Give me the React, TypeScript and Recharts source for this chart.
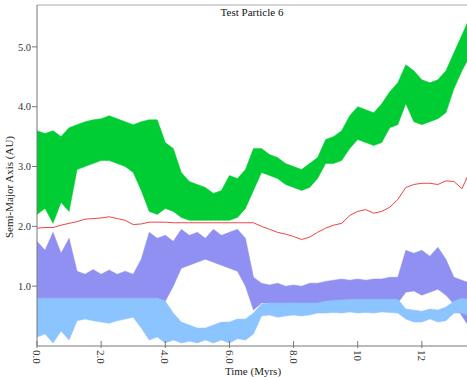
import { ComposedChart, Area, Line, XAxis, YAxis, ReferenceLine } from 'recharts'

// time samples (Myrs)
const times = [
  0, 0.25, 0.5, 0.75, 1, 1.25, 1.5, 1.75, 2, 2.25, 2.5, 2.75, 3, 3.25, 3.5, 3.75,
  4, 4.25, 4.5, 4.75, 5, 5.25, 5.5, 5.75, 6, 6.25, 6.5, 6.75, 7, 7.25, 7.5, 7.75,
  8, 8.25, 8.5, 8.75, 9, 9.25, 9.5, 9.75, 10, 10.25, 10.5, 10.75, 11, 11.25, 11.5, 11.75,
  12, 12.25, 12.5, 12.75, 13, 13.25, 13.5,
]

// green band: upper / lower envelope (AU)
const greenHi = [
  3.6, 3.55, 3.6, 3.5, 3.65, 3.7, 3.75, 3.78, 3.8, 3.85, 3.8, 3.75, 3.7, 3.75, 3.78, 3.78,
  3.4, 3.3, 2.9, 2.75, 2.7, 2.65, 2.55, 2.6, 2.85, 2.8, 2.95, 3.3, 3.3, 3.2, 3.15, 3.05,
  3.0, 2.95, 3.05, 3.15, 3.45, 3.5, 3.6, 3.85, 4.0, 3.95, 3.9, 4.05, 4.25, 4.4, 4.7, 4.6,
  4.45, 4.4, 4.45, 4.6, 4.9, 5.2, 5.5,
]
const greenLo = [
  2.2, 2.3, 2.05, 2.4, 2.25, 2.95, 3.0, 3.05, 3.1, 3.1, 3.05, 3.0, 2.9, 2.6, 2.25, 2.2,
  2.3, 2.25, 2.15, 2.1, 2.1, 2.1, 2.1, 2.1, 2.1, 2.15, 2.3, 2.6, 2.9, 2.85, 2.8, 2.7,
  2.65, 2.6, 2.65, 2.8, 3.05, 3.05, 3.1, 3.3, 3.45, 3.4, 3.35, 3.4, 3.65, 3.7, 4.05, 3.75,
  3.7, 3.75, 3.8, 3.9, 4.3, 4.6, 4.85,
]

// red line
const red = [
  1.97, 1.98, 1.98, 2.02, 2.05, 2.08, 2.12, 2.13, 2.14, 2.16, 2.13, 2.1, 2.03, 2.04, 2.07, 2.07,
  2.07, 2.06, 2.06, 2.06, 2.06, 2.06, 2.06, 2.06, 2.06, 2.06, 2.06, 2.06, 2.0, 1.95, 1.9, 1.87,
  1.83, 1.78, 1.82, 1.9, 1.97, 2.02, 2.05, 2.18, 2.25, 2.28, 2.22, 2.25, 2.32, 2.45, 2.65, 2.7,
  2.72, 2.72, 2.7, 2.76, 2.75, 2.63, 2.92,
]

// purple band
const purpleHi = [
  1.75, 1.6, 1.9, 1.55, 1.8, 1.25, 1.2, 1.28, 1.2, 1.27, 1.2, 1.25, 1.2, 1.45, 1.9, 1.8,
  1.85, 1.75, 1.95, 1.85, 1.9, 1.8, 1.95, 1.85, 1.9, 1.95, 1.8, 1.15, 1.05, 1.02, 1.05, 1.0,
  1.02, 1.0, 1.05, 1.05, 1.08, 1.1, 1.12, 1.1, 1.12, 1.1, 1.12, 1.12, 1.15, 1.15, 1.6, 1.55,
  1.6, 1.5, 1.65, 1.45, 1.15, 1.1, 1.05,
]
const purpleLo = [
  0.75, 0.75, 0.75, 0.75, 0.75, 0.78, 0.78, 0.78, 0.78, 0.78, 0.78, 0.78, 0.78, 0.78, 0.75, 0.8,
  0.75, 1.0, 1.3, 1.35, 1.4, 1.45, 1.4, 1.35, 1.3, 1.25, 1.0, 0.6, 0.72, 0.72, 0.72, 0.72,
  0.72, 0.72, 0.72, 0.72, 0.72, 0.72, 0.72, 0.72, 0.72, 0.72, 0.72, 0.72, 0.72, 0.72, 0.9, 0.92,
  0.85, 0.9, 0.95, 0.85, 0.7, 0.5, 0.3,
]

// light blue band
const blueHi = [
  0.8, 0.8, 0.8, 0.8, 0.8, 0.8, 0.8, 0.8, 0.8, 0.8, 0.8, 0.8, 0.8, 0.8, 0.8, 0.8,
  0.75, 0.55, 0.4, 0.35, 0.3, 0.3, 0.35, 0.4, 0.4, 0.45, 0.45, 0.55, 0.7, 0.72, 0.72, 0.72,
  0.72, 0.72, 0.72, 0.72, 0.75, 0.76, 0.77, 0.78, 0.78, 0.78, 0.78, 0.78, 0.78, 0.78, 0.62, 0.6,
  0.58, 0.62, 0.6, 0.65, 0.75, 0.8, 0.78,
]
const blueLo = [
  0.15, 0.2, 0.05, 0.25, 0.1, 0.42, 0.45, 0.42, 0.4, 0.38, 0.42, 0.45, 0.48, 0.3, 0.1, 0.15,
  0.05, 0.1, 0.05, 0.08, 0.05, 0.1, 0.05, 0.1, 0.05, 0.12, 0.1, 0.2, 0.5, 0.52, 0.48, 0.5,
  0.52, 0.5, 0.52, 0.55, 0.55, 0.56, 0.55, 0.57, 0.55, 0.56, 0.55, 0.57, 0.56, 0.55, 0.45, 0.4,
  0.4, 0.45, 0.4, 0.42, 0.55, 0.55, 0.5,
]

const xTicks = [0, 2, 4, 6, 8, 10, 12]
const yTicks = [1, 2, 3, 4, 5]

const font = '"Liberation Serif", "Times New Roman", serif'

const data = times.map((t, i) => ({
  t,
  green: [greenLo[i], greenHi[i]],
  purple: [purpleLo[i], purpleHi[i]],
  blue: [blueLo[i], blueHi[i]],
  red: red[i],
}))

function XTick({ x, y, payload }: any) {
  const v = payload.value as number
  const label = v < 10 ? v.toFixed(1) : String(v)
  return (
    <g transform={`translate(${x},${y})`}>
      <line x1={0} x2={0} y1={-5} y2={2} stroke="#777" />
      <text
        transform="rotate(90)"
        x={4}
        y={0}
        dy="0.35em"
        textAnchor="start"
        fontSize={11}
        fontFamily={font}
        fill="#333"
      >
        {label}
      </text>
    </g>
  )
}

export default function App() {
  return (
    <div
      style={{
        position: 'absolute',
        left: 0,
        top: 0,
        width: 467,
        height: 377,
        overflow: 'hidden',
        background: '#fff',
        fontFamily: font,
      }}
    >
      <ComposedChart width={490} height={377} data={data} margin={{ top: 5, right: 4, bottom: 0, left: 0 }}>
        <XAxis
          dataKey="t"
          type="number"
          domain={[0, 14]}
          ticks={xTicks}
          tick={<XTick />}
          tickSize={0}
          tickMargin={0}
          tickLine={false}
          height={31}
          stroke="#777"
          interval={0}
        />
        <YAxis
          type="number"
          domain={[0, 5.7]}
          ticks={yTicks}
          tickFormatter={(v: number) => v.toFixed(1)}
          width={37}
          tickSize={5}
          tickMargin={1}
          stroke="#777"
          tick={{ fontSize: 10.5, fontFamily: font, fill: '#333' }}
          interval={0}
        />
        <ReferenceLine y={5.7} stroke="#aaa" />
        <Area type="linear" dataKey="green" fill="#00cc33" fillOpacity={1} stroke="#00cc33" strokeWidth={0.5} isAnimationActive={false} />
        <Area type="linear" dataKey="purple" fill="#9090f2" fillOpacity={1} stroke="#9090f2" strokeWidth={0.5} isAnimationActive={false} />
        <Area type="linear" dataKey="blue" fill="#8cc4ff" fillOpacity={1} stroke="#8cc4ff" strokeWidth={0.5} isAnimationActive={false} />
        <Line type="linear" dataKey="red" stroke="#ee4444" strokeWidth={1} dot={false} isAnimationActive={false} />
      </ComposedChart>
      <div
        style={{
          position: 'absolute',
          left: 252,
          top: 12,
          transform: 'translate(-50%, -50%)',
          fontSize: 11,
          whiteSpace: 'nowrap',
          color: '#111',
        }}
      >
        Test Particle 6
      </div>
      <div
        style={{
          position: 'absolute',
          left: 253,
          top: 371,
          transform: 'translate(-50%, -50%)',
          fontSize: 11,
          whiteSpace: 'nowrap',
          color: '#222',
        }}
      >
        Time (Myrs)
      </div>
      <div
        style={{
          position: 'absolute',
          left: 9,
          top: 187,
          transform: 'translate(-50%, -50%) rotate(-90deg)',
          fontSize: 11,
          whiteSpace: 'nowrap',
          color: '#222',
        }}
      >
        Semi-Major Axis (AU)
      </div>
    </div>
  )
}
